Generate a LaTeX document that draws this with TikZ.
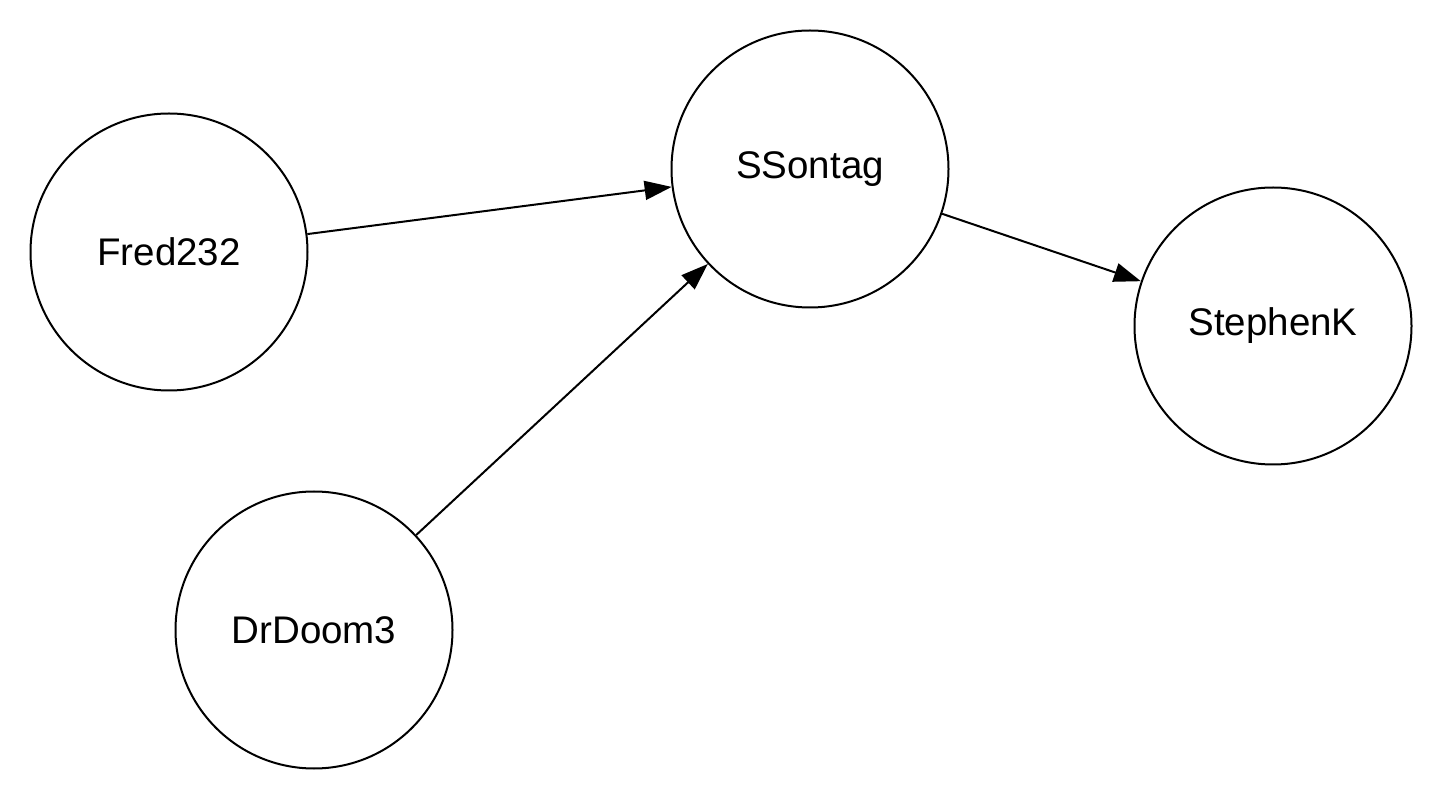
\documentclass[tikz,border=0pt]{standalone}
\usepackage{fontspec}
\setmainfont{Liberation Sans}
\usetikzlibrary{arrows.meta}
\begin{document}
\begin{tikzpicture}[x=1pt,y=-1pt,
  person/.style={circle,draw=black,line width=2pt,minimum size=277pt,inner sep=0pt,font=\fontsize{38.5}{42}\selectfont},
  link/.style={line width=2pt,-{Triangle[length=27pt,width=19pt]}}]
\useasboundingbox (0,0) rectangle (1444,799);
\node[person] (fred) at (169,252) {Fred232};
\node[person] (ss) at (810,169) {SSontag};
\node[person] (sk) at (1273,326) {StephenK};
\node[person] (dd) at (314,630) {DrDoom3};
\draw[link] (fred) -- (ss);
\draw[link] (dd) -- (ss);
\draw[link] (ss) -- (sk);
\end{tikzpicture}
\end{document}
